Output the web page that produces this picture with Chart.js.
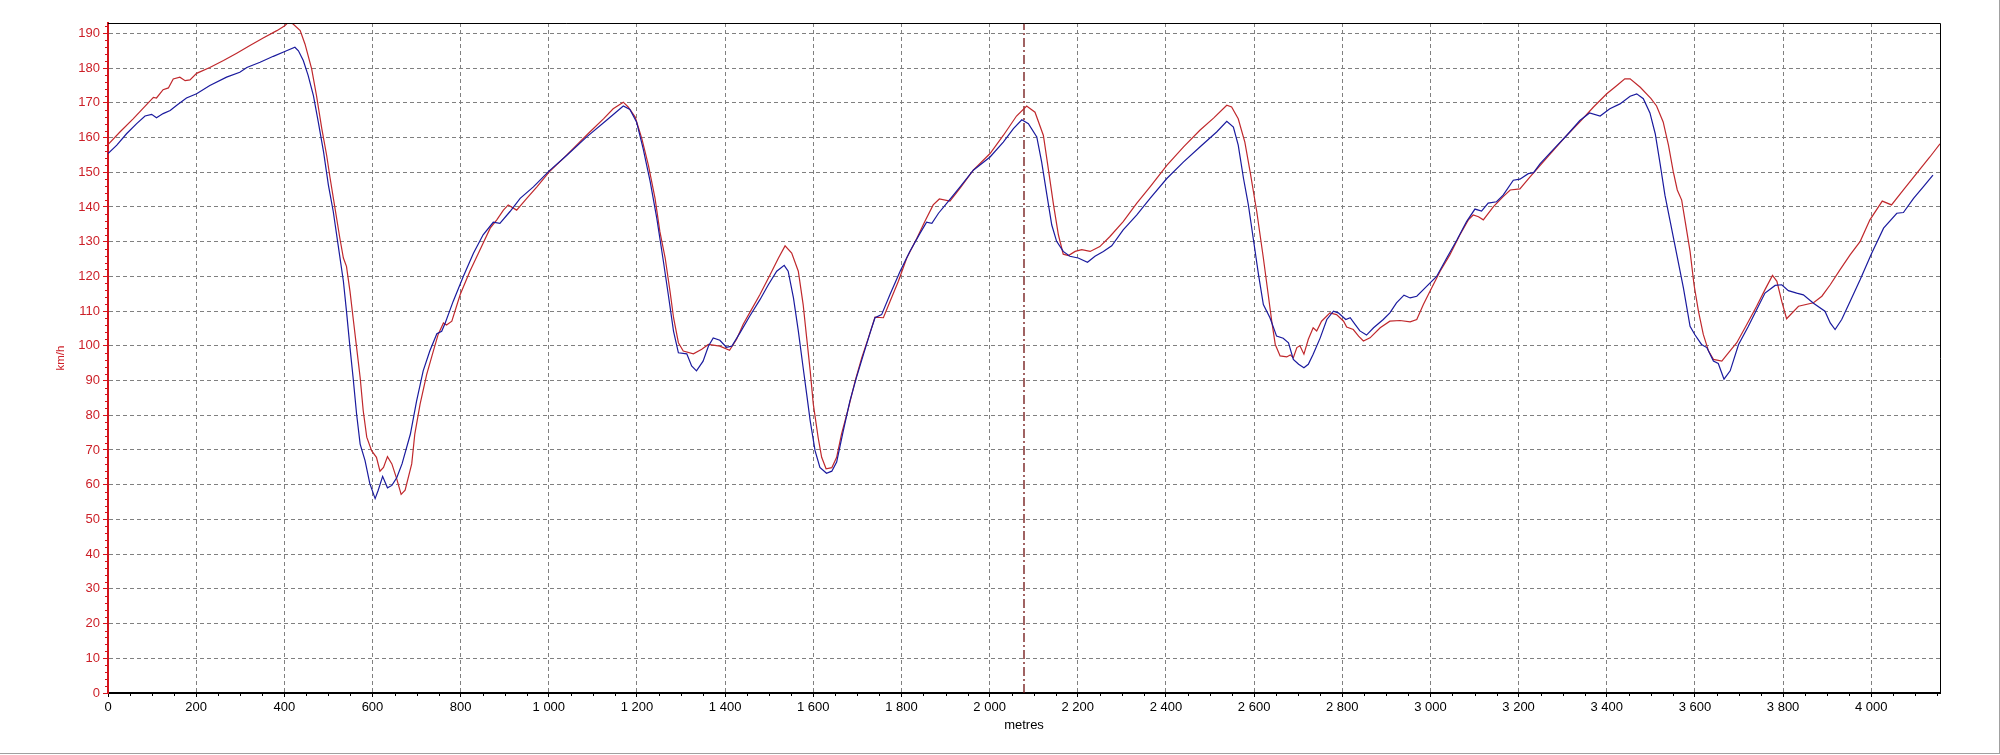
<!DOCTYPE html>
<html>
<head>
<meta charset="utf-8">
<script src="https://cdn.jsdelivr.net/npm/chart.js@4.4.1/dist/chart.umd.min.js"></script>
<style>
  html, body { margin: 0; padding: 0; background: #fff; }
  #wrap { width: 2000px; height: 755px; }
</style>
</head>
<body>
<div id="wrap"><canvas id="speedChart" width="2000" height="755"></canvas></div>
<script>
// red lap (reference) - distance in metres / speed in km/h
const redDist = [0, 27, 57, 80, 103, 110, 125, 137, 148, 163, 175, 186, 201, 231, 262, 292, 322, 352, 383, 401, 409, 420, 436, 447, 462, 473, 485, 496, 504, 515, 526, 534, 541, 549, 556, 564, 572, 579, 587, 598, 609, 617, 625, 634, 644, 655, 665, 674, 689,
  696, 708, 723, 738, 749, 761, 768, 780, 799, 821, 844, 867, 882, 897, 908, 927, 950, 973, 1001, 1033, 1063, 1093, 1124, 1146, 1169, 1180, 1196, 1211, 1226, 1241, 1252, 1264, 1275, 1283, 1294, 1305, 1328, 1347, 1362, 1388,
  1410, 1426, 1441, 1460, 1479, 1502, 1521, 1536, 1551, 1566, 1577, 1585, 1593, 1600, 1611, 1619, 1629, 1642, 1653, 1664, 1680, 1695, 1710, 1725, 1740, 1759, 1774, 1793, 1812, 1835, 1853, 1872, 1886, 1910, 1933, 1963, 2001, 2031, 2061, 2084, 2103,
  2122, 2133, 2145, 2156, 2167, 2179, 2194, 2209, 2228, 2250, 2273, 2303, 2334, 2364, 2402, 2440, 2477, 2508, 2538, 2549, 2564, 2579, 2591, 2606, 2621, 2632, 2640, 2648, 2659, 2674, 2682, 2689, 2697, 2704, 2713, 2723, 2734, 2742, 2753, 2772, 2787, 2803,
  2810, 2825, 2837, 2848, 2863, 2886, 2908, 2931, 2954, 2969, 2984, 2999, 3022, 3044, 3067, 3086, 3097, 3109, 3120, 3143, 3165, 3181, 3203, 3226, 3249, 3279, 3309, 3339, 3370, 3400, 3423, 3441, 3453, 3476, 3500,
  3513, 3528, 3540, 3551, 3560, 3570, 3578, 3589, 3598, 3608, 3619, 3631, 3642, 3661, 3676, 3695, 3718, 3740, 3759, 3776, 3786, 3797, 3808, 3835, 3869, 3888, 3907, 3929, 3952, 3975, 3997, 4025, 4046, 4073, 4103, 4133, 4156];
const redSpeed = [158.0, 161.6, 165.4, 168.5, 171.6, 171.4, 173.8, 174.3, 176.9, 177.4, 176.4, 176.6, 178.5, 180.2, 182.2, 184.3, 186.5, 188.7, 190.8, 192.2, 193.2, 192.7, 190.8, 186.9, 179.8, 172.1, 162.6, 154.9, 148.2, 139.6, 131.0, 125.3, 122.9, 115.7, 108.1, 99.5, 90.9, 81.3, 73.7, 69.8, 67.9, 63.9, 65.0, 68.1, 66.0, 61.7, 57.2, 58.4, 66.0,
  74.6, 83.2, 91.8, 98.5, 103.3, 106.6, 106.0, 107.1, 114.8, 121.5, 127.7, 133.9, 136.3, 139.1, 140.6, 139.1, 142.5, 145.8, 150.1, 154.0, 157.8, 161.6, 165.4, 168.3, 170.2, 168.8, 165.9, 159.7, 152.0, 142.5, 132.9, 125.3, 115.7, 108.1, 100.9, 98.5, 97.7, 99.0, 100.4, 99.9,
  98.7, 101.9, 106.2, 110.5, 114.8, 120.5, 125.3, 128.8, 126.7, 121.5, 111.9, 102.3, 92.8, 83.2, 73.6, 67.9, 64.6, 64.9, 67.9, 74.6, 82.2, 89.9, 96.6, 102.3, 108.3, 108.1, 112.8, 118.6, 125.3, 131.0, 135.8, 140.6, 142.3, 141.7, 145.4, 150.6, 155.4, 160.6, 166.2, 169.1, 167.3,
  160.6, 151.1, 140.6, 132.0, 126.4, 126.0, 127.2, 127.7, 127.2, 128.6, 131.5, 135.8, 141.1, 145.8, 152.0, 157.3, 162.1, 165.6, 169.3, 168.8, 165.4, 158.7, 150.1, 138.7, 125.3, 114.8, 107.1, 100.4, 97.1, 96.8, 97.4, 96.6, 99.5, 100.0, 97.6, 101.9, 105.2, 104.3, 107.1, 109.5, 109.0, 107.1,
  105.4, 104.7, 102.8, 101.4, 102.3, 105.2, 107.1, 107.3, 106.9, 107.6, 111.9, 115.7, 121.5, 126.2, 132.0, 136.3, 137.7, 137.2, 136.3, 140.1, 143.0, 144.9, 145.2, 148.7, 152.0, 156.3, 160.6, 164.5, 168.8, 172.6, 175.0, 176.9, 176.9, 174.5, 171.3,
  169.1, 164.5, 157.8, 150.1, 144.9, 142.0, 135.8, 127.2, 117.6, 110.0, 103.3, 98.5, 96.1, 95.6, 98.0, 100.9, 106.2, 111.4, 116.2, 120.3, 118.6, 112.8, 107.8, 111.4, 112.4, 114.3, 117.6, 121.9, 126.2, 130.1, 136.3, 141.7, 140.6, 144.9, 149.7, 154.4, 158.2];

// blue lap (comparison)
const blueDist = [0, 20, 42, 65, 84, 99, 110, 125, 141, 156, 178, 201, 231, 269, 299, 315, 345, 375, 405, 424, 432, 443, 454, 466, 477, 489, 500, 511, 522, 534, 541, 549, 556, 564, 572, 583, 594, 606, 613, 623, 634, 644, 655, 667, 686,
  700, 715, 730, 746, 757, 765, 783, 806, 829, 851, 874, 889, 912, 935, 965, 1001, 1041, 1086, 1131, 1169, 1184, 1199, 1214, 1230, 1245, 1260, 1271, 1283, 1294, 1313, 1324, 1335, 1350, 1362, 1373, 1388, 1403,
  1415, 1434, 1456, 1479, 1498, 1517, 1534, 1543, 1555, 1566, 1577, 1585, 1593, 1604, 1615, 1630, 1642, 1653, 1668, 1683, 1698, 1714, 1729, 1740, 1755, 1774, 1797, 1819, 1842, 1857, 1869, 1884, 1903, 1933, 1963, 2001, 2031, 2054, 2073, 2088,
  2107, 2118, 2130, 2141, 2152, 2167, 2182, 2201, 2222, 2239, 2258, 2277, 2303, 2334, 2364, 2402, 2440, 2477, 2515, 2538, 2553, 2564, 2576, 2587, 2598, 2610, 2621, 2636, 2651, 2666, 2678, 2689, 2701, 2713, 2723, 2734, 2750, 2765, 2780, 2791, 2808,
  2818, 2829, 2840, 2855, 2871, 2893, 2908, 2923, 2940, 2954, 2969, 2984, 3014, 3037, 3060, 3082, 3101, 3116, 3131, 3150, 3165, 3188, 3203, 3222, 3234, 3249, 3279, 3309, 3339, 3361, 3385, 3407, 3430, 3453, 3468, 3483, 3498, 3510, 3521,
  3532, 3544, 3559, 3574, 3589, 3600, 3615, 3627, 3642, 3653, 3666, 3680, 3699, 3721, 3740, 3759, 3782, 3797, 3812, 3831, 3846, 3869, 3895, 3907, 3918, 3933, 3952, 3975, 4001, 4028, 4058, 4073, 4096, 4118, 4140];
const blueSpeed = [155.4, 157.8, 161.1, 164.0, 166.2, 166.7, 165.7, 166.9, 167.8, 169.3, 171.4, 172.6, 175.0, 177.4, 178.8, 180.2, 181.7, 183.4, 185.0, 186.0, 185.0, 182.2, 177.9, 172.1, 164.5, 155.9, 146.3, 138.7, 129.1, 118.6, 110.0, 99.5, 90.9, 80.3, 71.7, 67.0, 60.3, 56.0, 58.4, 62.4, 59.1, 59.8, 62.0, 66.0, 74.6,
  84.1, 92.8, 98.5, 103.5, 104.2, 106.6, 112.8, 120.0, 126.7, 132.0, 135.6, 135.3, 138.7, 142.5, 145.8, 150.4, 154.9, 160.2, 165.0, 169.1, 168.1, 164.5, 156.8, 147.3, 136.7, 124.3, 114.8, 104.2, 98.0, 97.7, 94.2, 92.8, 95.6, 99.9, 102.3, 101.6, 99.6,
  99.9, 103.8, 108.6, 113.3, 117.6, 121.5, 123.2, 121.5, 113.8, 104.3, 93.7, 86.1, 78.4, 69.8, 65.0, 63.3, 63.9, 66.5, 75.5, 84.1, 90.9, 97.6, 103.8, 108.1, 109.0, 114.8, 121.5, 127.2, 132.4, 135.6, 135.3, 138.2, 141.1, 145.8, 150.6, 154.4, 158.7, 162.6, 165.1, 164.0,
  160.2, 153.0, 143.4, 134.8, 130.1, 127.2, 125.8, 125.3, 124.1, 125.8, 127.2, 128.8, 133.4, 137.7, 142.5, 148.2, 153.0, 157.3, 161.6, 164.7, 163.0, 157.8, 148.2, 140.6, 131.0, 120.5, 111.9, 108.1, 102.8, 102.2, 100.9, 96.1, 94.7, 93.7, 94.7, 97.6, 102.3, 107.6, 110.0, 109.5, 107.6,
  108.1, 106.2, 104.3, 103.1, 105.2, 107.6, 109.5, 112.4, 114.6, 113.8, 114.3, 116.2, 120.0, 125.3, 130.5, 135.8, 139.4, 138.8, 141.1, 141.5, 143.4, 147.7, 148.0, 149.6, 149.9, 152.5, 156.6, 160.6, 164.9, 167.1, 166.2, 168.3, 169.7, 171.9, 172.6, 171.2, 167.1, 161.1, 152.5,
  143.4, 135.8, 126.2, 116.6, 105.6, 103.2, 100.4, 99.5, 95.6, 94.9, 90.4, 92.8, 100.4, 105.6, 110.4, 115.2, 117.4, 117.6, 115.9, 115.2, 114.7, 112.3, 110.0, 106.6, 104.7, 107.6, 112.8, 119.1, 126.7, 133.9, 138.2, 138.4, 142.5, 145.8, 149.2];

// cursor position (dashed marker)
const cursorDistance = 2078;

// axes
const xMax = 4156;
const xStep = 200;
const xMinorStep = 50;
const yMax = 193;
const yStep = 10;
const yMinorStep = 2;
const xTitle = 'metres';
const yTitle = 'km/h';

function toPoints(xs, ys) {
  return xs.map(function (d, i) { return { x: d, y: ys[i] }; });
}

function spaced(v) {
  return String(v).replace(/\B(?=(\d{3})+(?!\d))/g, ' ');
}

// major ticks only on whole steps, never on the axis max
function stepTicks(step, max) {
  const out = [];
  for (let v = 0; v <= max; v += step) out.push({ value: v });
  return out;
}

const FONT = "'Liberation Sans', Arial, sans-serif";
const AXIS_RED = '#d4141c';

// frame, minor ticks, outer border
const framePlugin = {
  id: 'frame',
  afterDraw(chart) {
    const ctx = chart.ctx;
    const a = chart.chartArea;
    const x = chart.scales.x;
    const y = chart.scales.y;
    ctx.save();
    ctx.lineWidth = 1;

    ctx.strokeStyle = '#000';
    ctx.beginPath();
    ctx.moveTo(a.left, a.top + 0.5);
    ctx.lineTo(a.right + 0.5, a.top + 0.5);
    ctx.lineTo(a.right + 0.5, a.bottom);
    ctx.stroke();

    // minor ticks x
    ctx.beginPath();
    for (let v = xMinorStep; v <= xMax; v += xMinorStep) {
      if (v % xStep === 0) continue;
      const px = Math.round(x.getPixelForValue(v)) + 0.5;
      ctx.moveTo(px, a.bottom);
      ctx.lineTo(px, a.bottom + 3);
    }
    ctx.stroke();

    // minor ticks y
    ctx.strokeStyle = AXIS_RED;
    ctx.beginPath();
    for (let v = yMinorStep; v <= yMax; v += yMinorStep) {
      if (v % yStep === 0) continue;
      const py = Math.round(y.getPixelForValue(v)) + 0.5;
      ctx.moveTo(a.left - 3, py);
      ctx.lineTo(a.left, py);
    }
    ctx.stroke();

    // window border
    ctx.strokeStyle = '#a0a0a0';
    ctx.beginPath();
    ctx.moveTo(1999.5, 0);
    ctx.lineTo(1999.5, 754);
    ctx.moveTo(0, 753.5);
    ctx.lineTo(2000, 753.5);
    ctx.stroke();
    ctx.restore();
  }
};

const ctx = document.getElementById('speedChart').getContext('2d');

const myChart = new Chart(ctx, {
  type: 'line',
  data: {
    datasets: [{
      label: 'blue',
      data: toPoints(blueDist, blueSpeed),
      borderColor: '#1a1a9e',
      borderWidth: 1.2,
      pointRadius: 0,
      tension: 0
    }, {
      label: 'red',
      data: toPoints(redDist, redSpeed),
      borderColor: '#c0282c',
      borderWidth: 1.2,
      pointRadius: 0,
      tension: 0
    }, {
      label: 'cursor',
      data: [{ x: cursorDistance, y: 0 }, { x: cursorDistance, y: yMax }],
      borderColor: '#6e1010',
      borderWidth: 1.3,
      borderDash: [9, 3, 2, 3],
      pointRadius: 0
    }]
  },
  options: {
    responsive: false,
    animation: false,
    devicePixelRatio: 1,
    layout: { padding: { left: 0, top: 23, right: 60, bottom: 0 } },
    plugins: {
      legend: { display: false },
      tooltip: { enabled: false }
    },
    scales: {
      x: {
        type: 'linear',
        min: 0,
        max: xMax,
        afterBuildTicks: function (scale) { scale.ticks = stepTicks(xStep, xMax); },
        afterFit: function (scale) { scale.height = 62; },
        ticks: {
          stepSize: xStep,
          autoSkip: false,
          maxRotation: 0,
          padding: 3,
          color: '#000',
          font: { family: FONT, size: 13 },
          callback: function (v) { return spaced(v); }
        },
        grid: {
          color: '#808080',
          lineWidth: 1,
          tickLength: 4,
          tickColor: '#000',
          tickWidth: 1
        },
        border: { display: true, color: '#000', width: 2, dash: [4, 3] },
        title: {
          display: true,
          text: xTitle,
          color: '#000',
          font: { family: FONT, size: 13 },
          padding: { top: 0, bottom: 22 }
        }
      },
      y: {
        type: 'linear',
        min: 0,
        max: yMax,
        afterBuildTicks: function (scale) { scale.ticks = stepTicks(yStep, yMax); },
        afterFit: function (scale) { scale.width = 108; },
        ticks: {
          stepSize: yStep,
          autoSkip: false,
          padding: 3,
          color: '#cc1f27',
          font: { family: FONT, size: 13 }
        },
        grid: {
          color: '#808080',
          lineWidth: 1,
          tickLength: 5,
          tickColor: AXIS_RED,
          tickWidth: 1
        },
        border: { display: true, color: AXIS_RED, width: 2, dash: [4, 3] },
        title: {
          display: true,
          text: yTitle,
          color: '#cc1f27',
          font: { family: FONT, size: 11.5 },
          padding: { top: 54, bottom: 0 }
        }
      }
    }
  },
  plugins: [framePlugin]
});
</script>
</body>
</html>
